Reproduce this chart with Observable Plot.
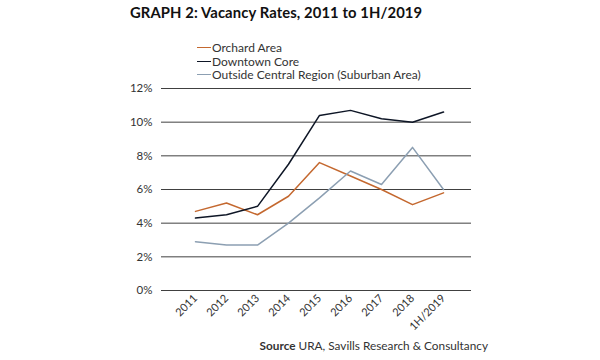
<!DOCTYPE html>
<html>
<head>
<meta charset="utf-8">
<script src="https://cdn.jsdelivr.net/npm/d3@7"></script>
<script src="https://cdn.jsdelivr.net/npm/@observablehq/plot@0.6"></script>
<style>
  html, body { margin: 0; padding: 0; background: #fff; }
  body { width: 600px; height: 360px; position: relative; overflow: hidden; font-family: Lato, "Open Sans", sans-serif; color: #333; }
  #title { position: absolute; left: 130px; top: 3px; font-weight: 700; font-size: 14.8px; color: #111; letter-spacing: 0.1px; }
  #legend { position: absolute; left: 197px; top: 41px; font-size: 12px; line-height: 13.5px; color: #333; }
  #legend .item { display: flex; align-items: center; white-space: nowrap; }
  #legend .sw { display: inline-block; width: 14px; height: 0; border-top: 1.5px solid; margin-right: 1px; }
  #chart { position: absolute; left: 0; top: 80px; }
  #source { position: absolute; right: 112px; top: 338px; font-size: 11.8px; color: #333; white-space: nowrap; }
</style>
</head>
<body>
<div id="title"></div>
<div id="legend"></div>
<div id="chart"></div>
<div id="source"><b>Source</b> URA, Savills Research &amp; Consultancy</div>
<script>
const titleText = "GRAPH 2: Vacancy Rates, 2011 to 1H/2019";
const periods = ["2011", "2012", "2013", "2014", "2015", "2016", "2017", "2018", "1H/2019"];
const seriesNames = ["Orchard Area", "Downtown Core", "Outside Central Region (Suburban Area)"];
const seriesColors = ["#c4682f", "#0e1626", "#8c9fb2"];
const orchard = [4.7, 5.2, 4.5, 5.6, 7.6, 6.8, 6.0, 5.1, 5.8];
const downtown = [4.3, 4.5, 5.0, 7.5, 10.4, 10.7, 10.2, 10.0, 10.6];
const suburban = [2.9, 2.7, 2.7, 4.0, 5.5, 7.1, 6.3, 8.5, 6.0];
const yTicks = [0, 2, 4, 6, 8, 10, 12];

document.getElementById("title").textContent = titleText;

const legend = document.getElementById("legend");
seriesNames.forEach((n, i) => {
  const d = document.createElement("div");
  d.className = "item";
  const s = document.createElement("span");
  s.className = "sw";
  s.style.borderColor = seriesColors[i];
  const t = document.createElement("span");
  t.textContent = n;
  d.appendChild(s); d.appendChild(t);
  legend.appendChild(d);
});

const allSeries = [orchard, downtown, suburban];
const data = [];
allSeries.forEach((vals, si) => {
  vals.forEach((v, i) => data.push({series: seriesNames[si], period: periods[i], value: v}));
});

const chart = Plot.plot({
  width: 600,
  height: 255,
  marginLeft: 161,
  marginRight: 129,
  marginTop: 8,
  marginBottom: 45,
  style: { fontFamily: "Lato, 'Open Sans', sans-serif", fontSize: "11px", color: "#333", background: "transparent" },
  x: { type: "point", domain: periods, range: [178, 460], label: null },
  y: { domain: [0, 12], label: null },
  color: { domain: seriesNames, range: seriesColors },
  marks: [
    Plot.ruleY(yTicks, { stroke: "#404040", strokeWidth: 1 }),
    Plot.axisY({ ticks: yTicks, tickFormat: d => d + "%", tickSize: 0, tickPadding: 9, fontSize: 11.5, label: null }),
    Plot.axisX({ tickSize: 0, tickRotate: -45, tickPadding: 6, fontSize: 11, label: null }),
    Plot.line(data, { x: "period", y: "value", z: "series", stroke: "series", strokeWidth: 1.5 })
  ]
});
document.getElementById("chart").appendChild(chart);
</script>
</body>
</html>
